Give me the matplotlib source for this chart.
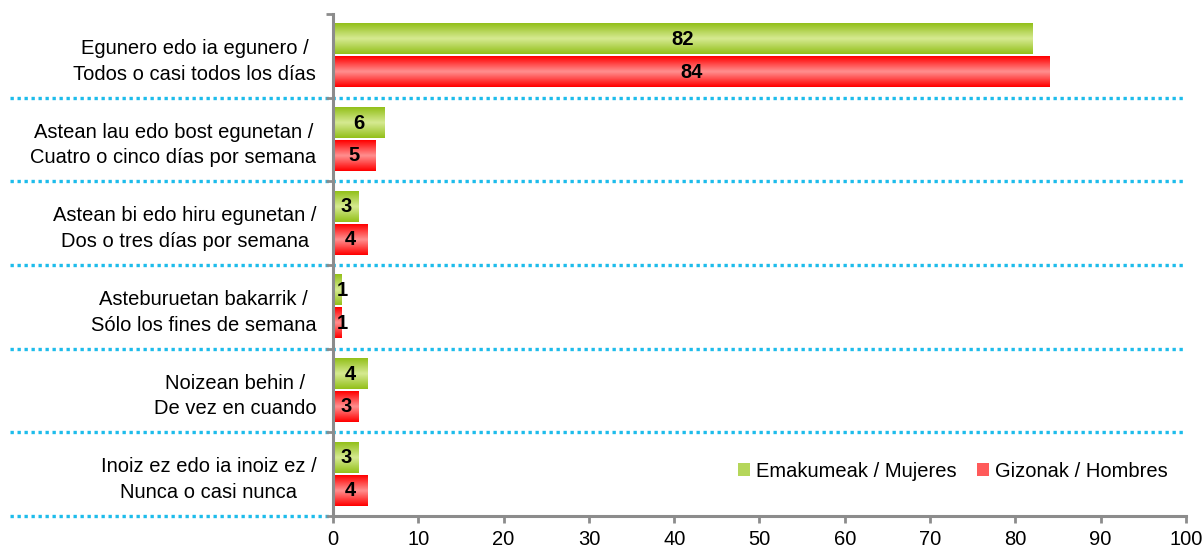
import numpy as np
import matplotlib.pyplot as plt
from matplotlib.colors import LinearSegmentedColormap
from matplotlib.patches import Patch

plt.rcParams['font.family'] = ['Liberation Sans', 'DejaVu Sans']

# === Data ===
categories = [
    "Egunero edo ia egunero /\nTodos o casi todos los días",
    "Astean lau edo bost egunetan /\nCuatro o cinco días por semana",
    "Astean bi edo hiru egunetan /\nDos o tres días por semana",
    "Asteburuetan bakarrik /\nSólo los fines de semana",
    "Noizean behin /\nDe vez en cuando",
    "Inoiz ez edo ia inoiz ez /\nNunca o casi nunca",
]
mujeres = [82, 6, 3, 1, 4, 3]
hombres = [84, 5, 4, 1, 3, 4]
series_names = ["Emakumeak / Mujeres", "Gizonak / Hombres"]

# === Colours ===
green_cmap = LinearSegmentedColormap.from_list("g", ["#93C01A", "#D6EA92", "#93C01A"])
red_cmap = LinearSegmentedColormap.from_list("r", ["#FF0000", "#FF9090", "#FF0000"])
axis_grey = "#8C8C8C"
dot_blue = "#1EBCEB"
FS = 14.5

fig = plt.figure(figsize=(12.04, 5.49), dpi=100)
ax = fig.add_axes([0.2766, 0.0601, 0.7084, 0.9144])

grad = np.linspace(0, 1, 64).reshape(-1, 1)
bar_h = 0.36
offset = 0.197

for i, (m, h) in enumerate(zip(mujeres, hombres)):
    for val, yc, cmap in ((m, i - offset, green_cmap), (h, i + offset, red_cmap)):
        ax.imshow(grad, cmap=cmap, aspect="auto", interpolation="bilinear",
                  extent=[0, val, yc + bar_h / 2, yc - bar_h / 2], zorder=2)
        ax.text(max(val / 2, 1.1), yc, str(val), ha="center", va="center",
                fontsize=FS, fontweight="bold", zorder=3)

ax.set_xlim(0, 100)
ax.set_ylim(len(categories) - 0.5, -0.5)

# dotted separators reaching into the label area
for b in np.arange(0.5, len(categories) + 0.5, 1):
    x_end = 1.0 if b < len(categories) - 0.5 else 0.0
    ax.plot([-0.379, x_end], [b, b], transform=ax.get_yaxis_transform(),
            color=dot_blue, lw=2.4, ls=(0, (1, 1.1)), clip_on=False, zorder=1)

# === Axes styling ===
for s in ("top", "right"):
    ax.spines[s].set_visible(False)
for s in ("left", "bottom"):
    ax.spines[s].set_color(axis_grey)
    ax.spines[s].set_linewidth(2.2)
    ax.spines[s].set_zorder(4)

ax.set_xticks(range(0, 101, 10))
ax.tick_params(axis="x", direction="out", length=5, width=2, color=axis_grey,
               labelsize=FS, pad=5)

ax.set_yticks(range(len(categories)))
ax.set_yticklabels(categories, multialignment="center", linespacing=1.45)
ax.set_yticks(np.arange(-0.5, len(categories), 1), minor=True)
ax.tick_params(axis="y", which="major", length=0, labelsize=FS, pad=12)
ax.tick_params(axis="y", which="minor", direction="out", length=5, width=2, color=axis_grey)

handles = [Patch(facecolor="#B5D65A", edgecolor="none"),
           Patch(facecolor="#FF5A5A", edgecolor="none")]
ax.legend(handles, series_names, loc="lower right", bbox_to_anchor=(1.0, 0.034),
          ncol=2, frameon=False, fontsize=FS, handlelength=0.6, handleheight=0.6,
          handletextpad=0.3, columnspacing=1.0)

fig.savefig("out.png", dpi=100)
